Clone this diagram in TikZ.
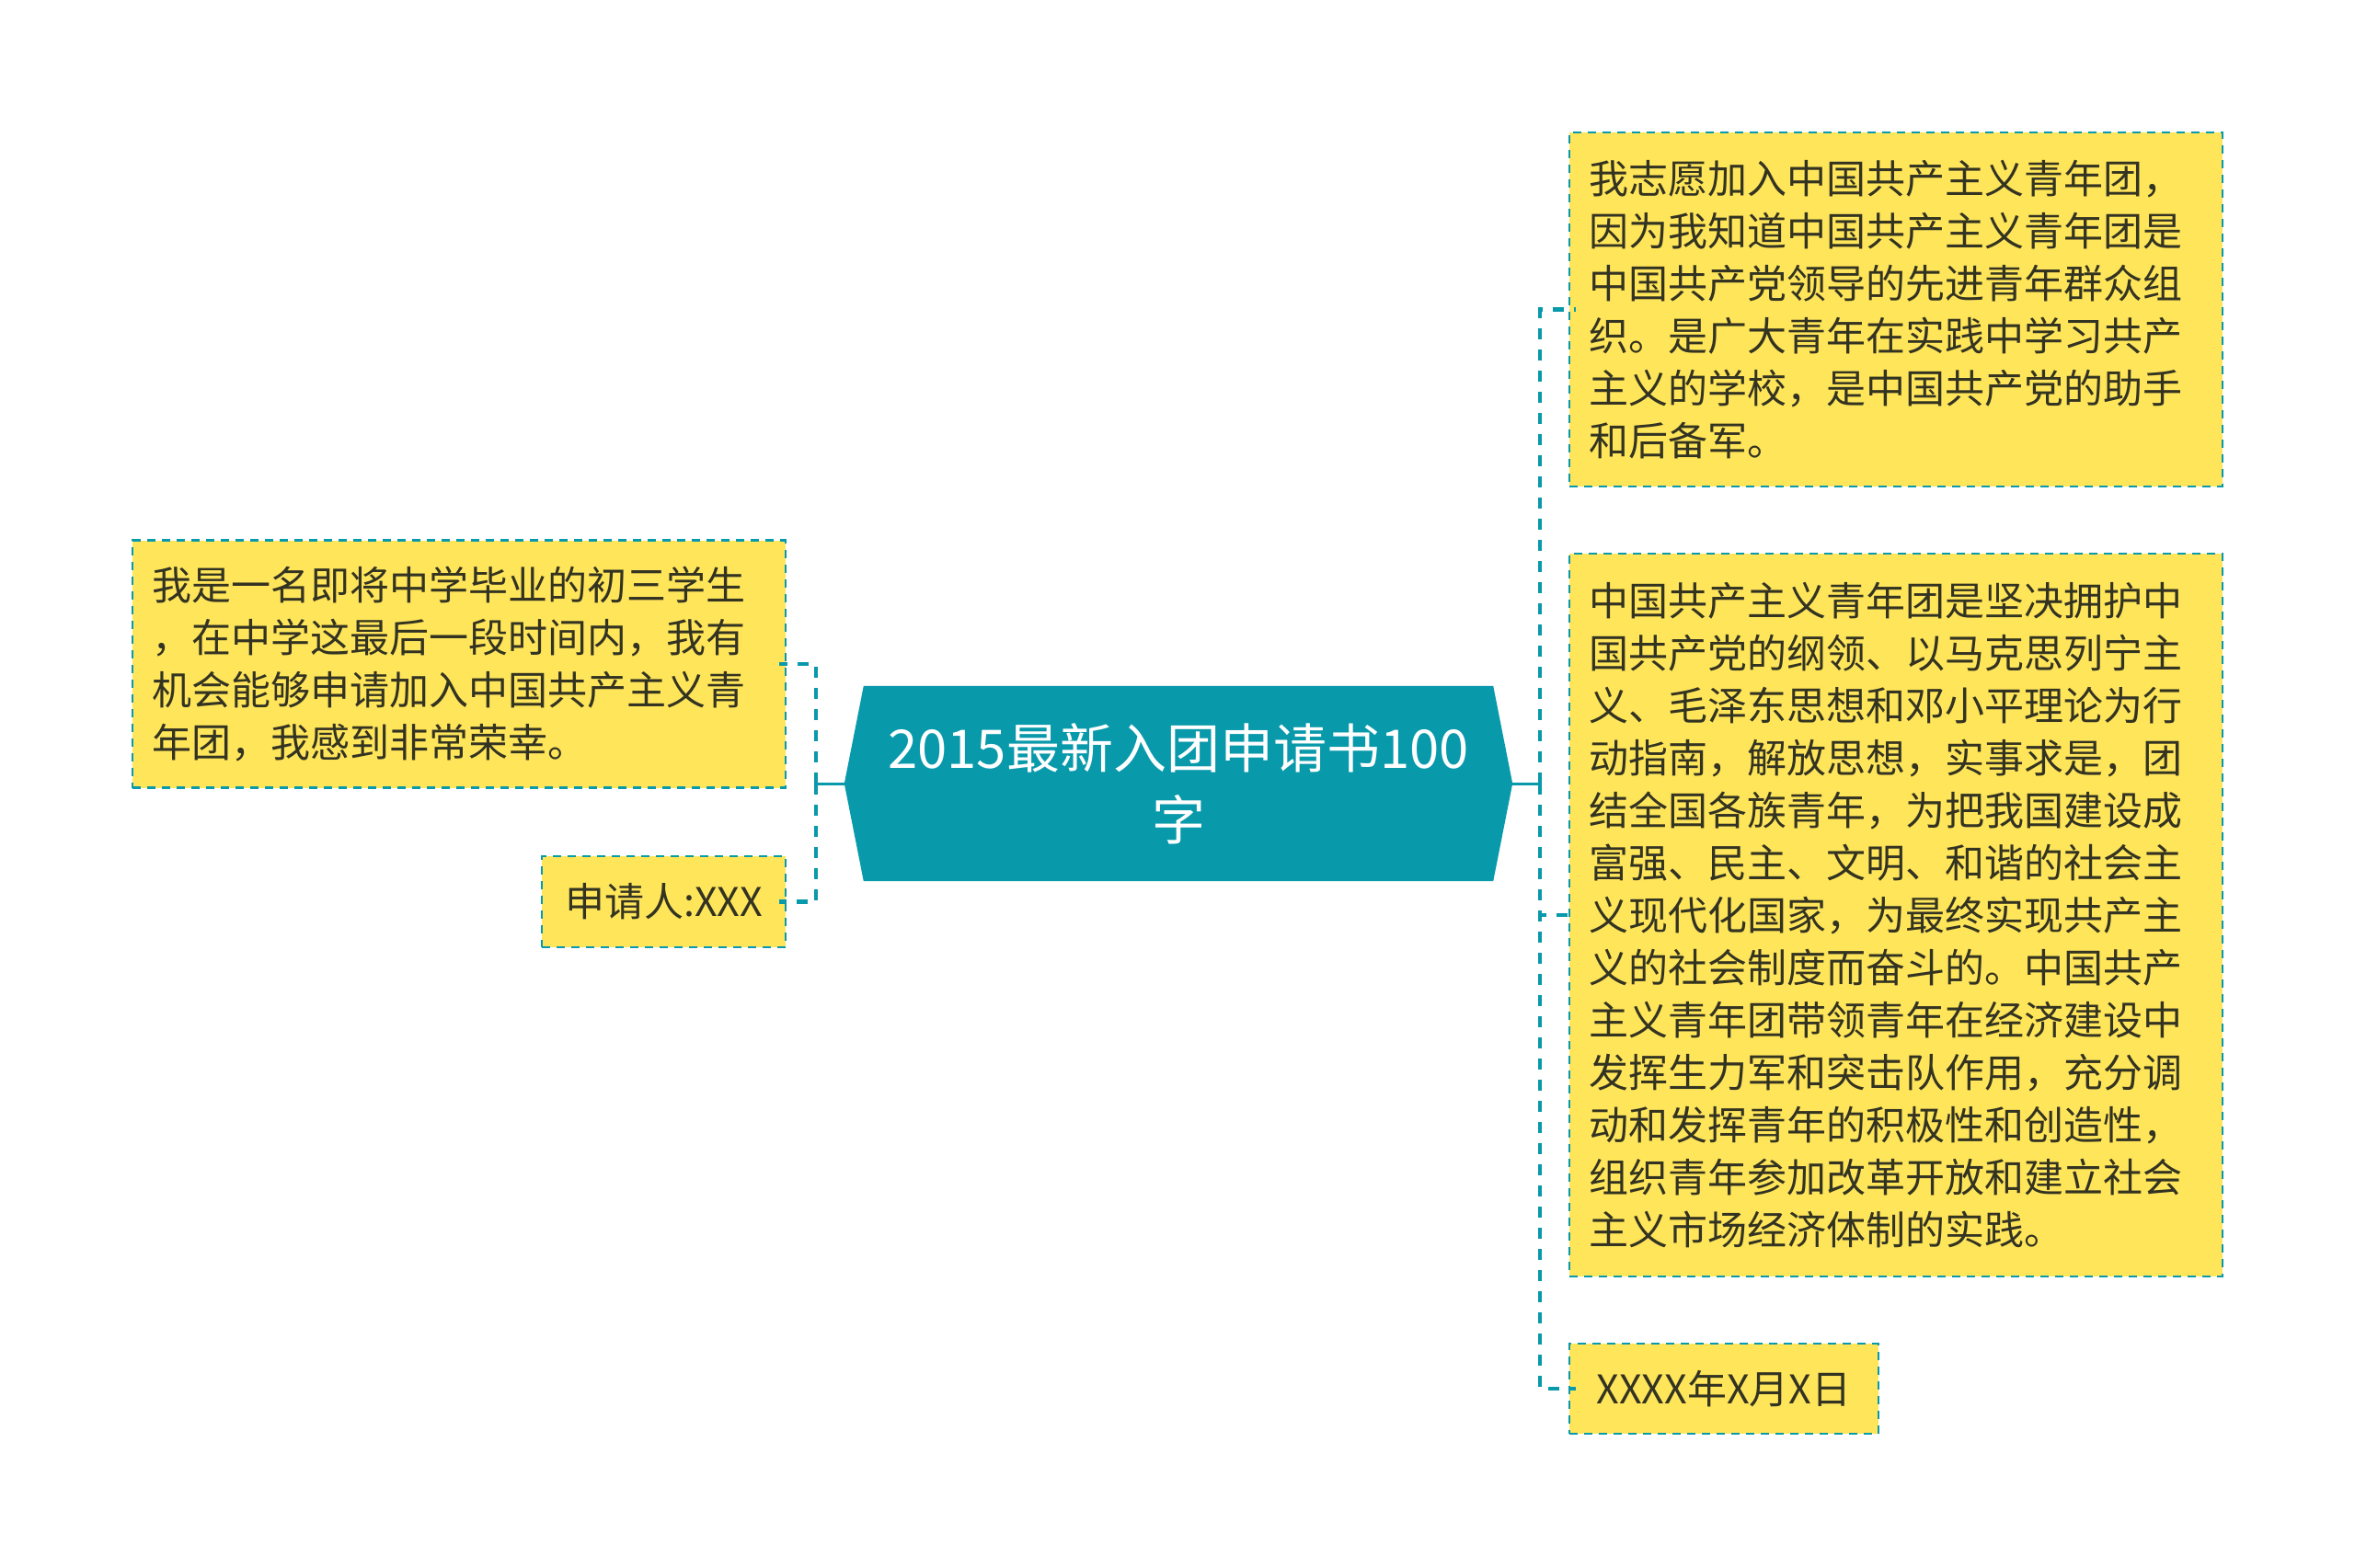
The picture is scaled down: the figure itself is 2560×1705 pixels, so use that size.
\documentclass[tikz,border=0pt]{standalone}
\usepackage{fontspec}
\setmainfont{Noto Sans CJK SC}
\usetikzlibrary{backgrounds}
\definecolor{teal}{HTML}{0899AB}
\definecolor{note}{HTML}{FFE55A}
\definecolor{ink}{HTML}{333322}
\tikzset{
	leaf/.style={draw=teal, fill=note, line width=2.8pt, dash pattern=on 9pt off 7pt, inner xsep=21pt, inner ysep=0pt, text=ink, font=\fontsize{43}{57}\selectfont},
	para/.style={leaf, align=left, text width=668pt},
	stub/.style={draw=teal, line width=3pt},
	link/.style={draw=teal, line width=4.5pt, dash pattern=on 12pt off 11pt}
}
\begin{document}
\begin{tikzpicture}[x=1pt, y=-1pt]
			\useasboundingbox (0,0) rectangle (2560,1705);
			\node (root)[minimum width=726pt, minimum height=212pt, text=white, align=center, font=\fontsize{58}{78}\selectfont] at (1281,852) {2015最新入团申请书100\\字};
			\begin{scope}[on background layer]
				\fill[teal] (root.west) -- ([xshift=21pt]root.north west) -- ([xshift=-21pt]root.north east) -- (root.east) -- ([xshift=-21pt]root.south east) -- ([xshift=21pt]root.south west) -- cycle;
			\end{scope}

			\node (intro)[para, minimum height=269pt] at (499,722) {我是一名即将中学毕业的初三学生\\，在中学这最后一段时间内，我有\\机会能够申请加入中国共产主义青\\年团，我感到非常荣幸。};
			\node (sign)[leaf, minimum width=265pt, minimum height=99pt] at (721.5,980.5) {申请人:XXX};

			\node (aim)[para, minimum height=385pt] at (2061,336.5) {我志愿加入中国共产主义青年团，\\因为我知道中国共产主义青年团是\\中国共产党领导的先进青年群众组\\织。是广大青年在实践中学习共产\\主义的学校，是中国共产党的助手\\和后备军。};
			\node (league)[para, minimum height=786pt] at (2061,995) {中国共产主义青年团是坚决拥护中\\国共产党的纲领、以马克思列宁主\\义、毛泽东思想和邓小平理论为行\\动指南，解放思想，实事求是，团\\结全国各族青年，为把我国建设成\\富强、民主、文明、和谐的社会主\\义现代化国家，为最终实现共产主\\义的社会制度而奋斗的。中国共产\\主义青年团带领青年在经济建设中\\发挥生力军和突击队作用，充分调\\动和发挥青年的积极性和创造性，\\组织青年参加改革开放和建立社会\\主义市场经济体制的实践。};
			\node (date)[leaf, minimum width=336pt, minimum height=98pt] at (1874,1510) {XXXX年X月X日};

			\coordinate (lfork) at (887,852);
			\coordinate (rfork) at (1674,852);

			\draw [stub](root.west) -- (lfork);
			\draw [link](lfork) |- ([xshift=-8pt]intro.east);
			\draw [link](lfork) |- ([xshift=-8pt]sign.east);

			\draw [stub](root.east) -- (rfork);
			\draw [link](rfork) |- ([xshift=8pt]aim.west);
			\draw [link](rfork) |- ([xshift=8pt]league.west);
			\draw [link](rfork) |- ([xshift=8pt]date.west);
		\end{tikzpicture}
\end{document}
